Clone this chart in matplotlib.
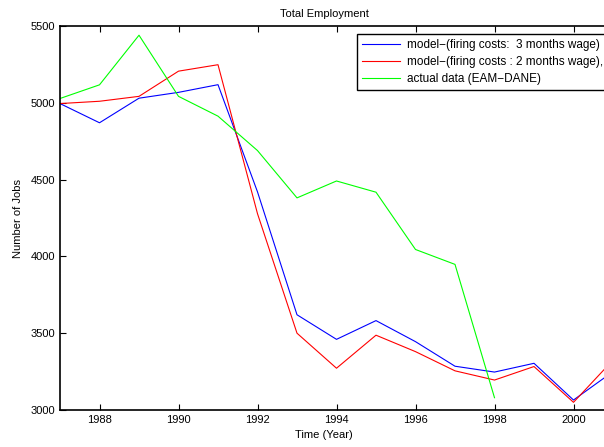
import matplotlib
matplotlib.use("Agg")
import matplotlib.pyplot as plt

plt.rcParams['font.family'] = ['Liberation Sans', 'DejaVu Sans']

years = list(range(1987, 2002))
model_3m = [4995, 4870, 5030, 5068, 5118, 4420, 3620, 3460, 3582, 3445, 3285, 3247, 3304, 3065, 3250]
model_2m = [4995, 5010, 5042, 5206, 5248, 4278, 3500, 3272, 3487, 3380, 3255, 3195, 3283, 3050, 3325]
actual_years = list(range(1987, 1999))
actual = [5028, 5117, 5440, 5042, 4913, 4689, 4381, 4491, 4418, 4045, 3948, 3080]

labels = ["model\u2212(firing costs:  3 months wage)",
          "model\u2212(firing costs : 2 months wage),",
          "actual data (EAM\u2212DANE)"]

fig = plt.figure(figsize=(6.04, 4.47), dpi=100)
# axes run past the right edge, like the cropped original
ax = fig.add_axes([60/604, 1 - 410/447, 553/604, 384/447])

ax.plot(years, model_3m, color='#0000ff', lw=0.8, label=labels[0])
ax.plot(years, model_2m, color='#ff0000', lw=0.8, label=labels[1])
ax.plot(actual_years, actual, color='#00ff00', lw=0.8, label=labels[2])

ax.set_xlim(1987, 2001)
ax.set_ylim(3000, 5500)
ax.set_xticks(range(1988, 2001, 2))
ax.set_yticks(range(3000, 5501, 500))
ax.tick_params(direction='in', length=4, width=0.8, labelsize=8, top=True, right=True)
for s in ax.spines.values():
    s.set_linewidth(1.2)

fig.text(324/604, 1 - 14/447, "Total Employment", ha='center', va='center', fontsize=8)
fig.text(324/604, 1 - 435/447, "Time (Year)", ha='center', va='center', fontsize=8)
fig.text(18/604, 1 - 218/447, "Number of Jobs", ha='center', va='center', fontsize=8, rotation=90)

leg = ax.legend(loc='upper left', bbox_to_anchor=(357/604, 1 - 34/447), bbox_transform=fig.transFigure,
                fontsize=8.5, handlelength=3.2, fancybox=False, framealpha=1, edgecolor='black',
                borderpad=0.4, labelspacing=0.45, handletextpad=0.6, borderaxespad=0)
leg.get_frame().set_linewidth(1.0)

fig.savefig("out.png", dpi=100)
